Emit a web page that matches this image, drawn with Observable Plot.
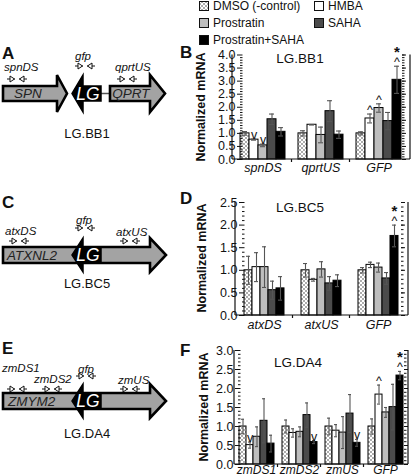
<!DOCTYPE html>
<html>
<head>
<meta charset="utf-8">
<script src="https://cdn.jsdelivr.net/npm/d3@7"></script>
<script src="https://cdn.jsdelivr.net/npm/@observablehq/plot@0.6"></script>
<style>
  html, body { margin: 0; padding: 0; background: #fff; }
  #fig { position: relative; width: 416px; height: 476px; overflow: hidden; font-family: "Liberation Sans", Arial, Helvetica, sans-serif; }
  #overlay { position: absolute; left: 0; top: 0; }
  .chart { position: absolute; }
  .chart svg { overflow: visible; background: none !important; }
  .chart g[aria-label="fx-axis tick label"] text { font-style: italic; }
</style>
</head>
<body>
<svg width="0" height="0" style="position:absolute">
  <defs>
    <pattern id="xhatch" patternUnits="userSpaceOnUse" width="4" height="4">
      <rect width="4" height="4" fill="#fff"></rect>
      <path d="M0,0L4,4M4,0L0,4" stroke="#8a8a8a" stroke-width="0.7"></path>
    </pattern>
  </defs>
</svg>
<div id="fig">
  <svg id="overlay" width="416" height="476"></svg>
</div>
<script>
const FONT = '"Liberation Sans", Arial, Helvetica, sans-serif';

// ---------- DATA ----------
const treatments = ["DMSO (-control)", "HMBA", "Prostratin", "SAHA", "Prostratin+SAHA"];
const treatmentFills = ["url(#xhatch)", "#ffffff", "#bebebe", "#4b4b4b", "#000000"];

// Panel B: LG.BB1
const genesB = ["spnDS", "qprtUS", "GFP"];
const meanB = [
  [1.00, 0.76, 0.54, 1.54, 1.06],
  [1.00, 1.33, 0.94, 1.85, 0.95],
  [1.00, 1.57, 1.97, 1.47, 3.05]
];
const errB = [
  [0.07, 0.02, 0.05, 0.20, 0.16],
  [0.10, 0.01, 0.30, 0.40, 0.14],
  [0.06, 0.17, 0.16, 0.33, 0.52]
];
const sigB = [
  ["", "v", "v", "", ""],
  ["", "", "", "", ""],
  ["", "^", "^", "", "^*"]
];
const yTicksB = [0, 0.5, 1, 1.5, 2, 2.5, 3, 3.5, 4];

// Panel D: LG.BC5
const genesD = ["atxDS", "atxUS", "GFP"];
const meanD = [
  [1.00, 1.07, 1.07, 0.56, 0.60],
  [1.00, 0.79, 1.02, 0.71, 0.77],
  [1.00, 1.12, 1.06, 0.82, 1.76]
];
const errD = [
  [0.31, 0.32, 0.45, 0.20, 0.26],
  [0.15, 0.03, 0.17, 0.15, 0.13],
  [0.06, 0.06, 0.10, 0.13, 0.24]
];
const sigD = [
  ["", "", "", "", ""],
  ["", "", "", "", ""],
  ["", "", "", "", "^*"]
];
const yTicksD = [0, 0.5, 1, 1.5, 2, 2.5];

// Panel F: LG.DA4
const genesF = ["zmDS1", "zmDS2", "zmUS", "GFP"];
const meanF = [
  [1.00, 0.51, 0.73, 1.15, 0.55],
  [1.00, 0.83, 0.86, 1.30, 0.59],
  [1.00, 0.89, 0.84, 1.34, 0.57],
  [1.00, 1.84, 1.37, 1.51, 2.34]
];
const errF = [
  [0.19, 0.08, 0.26, 0.58, 0.22],
  [0.17, 0.11, 0.13, 0.32, 0.04],
  [0.22, 0.16, 0.42, 0.50, 0.09],
  [0.20, 0.25, 0.13, 0.60, 0.11]
];
const sigF = [
  ["", "v", "", "", ""],
  ["", "", "", "", "v"],
  ["", "", "", "", "v"],
  ["", "^", "", "", "^*"]
];
const yTicksF = [0, 0.5, 1, 1.5, 2, 2.5, 3];

// ---------- BAR CHARTS ----------
function makeChart(genes, means, errs, sigs, yTicks, L) {
  const rows = genes.flatMap((g, i) => treatments.map((t, j) => ({
    gene: g, treat: t, value: means[i][j], err: errs[i][j], sig: sigs[i][j]
  })));
  const yMax = yTicks[yTicks.length - 1];
  const minor = d3.range(0, yMax + 1e-6, 0.1);
  const carets = rows.filter(d => d.sig.includes("^") || d.sig.includes("v"));
  const stars = rows.filter(d => d.sig.includes("*"));
  const chart = Plot.plot({
    width: L.width, height: L.height,
    marginLeft: L.ml, marginRight: L.mr, marginTop: L.mt, marginBottom: L.mb,
    style: { fontFamily: FONT, fontSize: "12px", background: "none", overflow: "visible", color: "#111" },
    fx: { domain: genes, paddingInner: L.pi, paddingOuter: L.po, label: null, axis: null },
    x: { domain: treatments, padding: 0, axis: null },
    y: { domain: [0, yMax], axis: null },
    color: { type: "ordinal", domain: treatments, range: treatmentFills },
    marks: [
      Plot.barY(rows, { fx: "gene", x: "treat", y: "value", fill: "treat", stroke: "#000", strokeWidth: 1 }),
      Plot.ruleX(rows, { fx: "gene", x: "treat", y1: d => d.value - d.err, y2: d => d.value + d.err, stroke: "#555", strokeWidth: 1.1 }),
      Plot.tickY(rows, { fx: "gene", x: "treat", y: d => d.value + d.err, insetLeft: 2, insetRight: 2, stroke: "#555", strokeWidth: 1.1 }),
      Plot.tickY(rows, { fx: "gene", x: "treat", y: d => d.value - d.err, insetLeft: 2, insetRight: 2, stroke: "#555", strokeWidth: 1.1 }),
      Plot.text(carets, { fx: "gene", x: "treat", y: d => d.value + d.err, text: d => d.sig.includes("^") ? "^" : "v", lineAnchor: "bottom", dy: 0, fontSize: 12.5, fill: "#111" }),
      Plot.text(stars, { fx: "gene", x: "treat", y: d => d.value + d.err, text: () => "*", lineAnchor: "bottom", dy: -9, fontSize: 15, fontWeight: "bold", fill: "#111" }),
      Plot.axisY(yTicks, { anchor: "left", tickSize: 3, tickPadding: 2, tickFormat: d3.format(".1f"), label: null, fontSize: 12.5 }),
      Plot.axisY(minor, { anchor: "left", tickSize: 2.5, dx: 2.5, text: null, label: null }),
      Plot.axisY(yTicks, { anchor: "right", tickSize: 4, text: null, label: null }),
      Plot.axisY(minor, { anchor: "right", tickSize: 2.5, text: null, label: null }),
      Plot.axisFx({ anchor: "bottom", tickSize: 0, tickPadding: L.fxPad, label: null, fontStyle: "italic", fontSize: L.fxSize })
    ]
  });
  // axis lines drawn from the plot's own scales
  const ys = chart.scale("y");
  const y0 = ys.apply(0), yTop = ys.apply(yMax);
  const xl = L.ml, xr = L.width - L.mr;
  const s = d3.select(chart);
  const g = s.append("g").attr("stroke", "#111").attr("stroke-width", 1.2).attr("fill", "none");
  g.append("line").attr("x1", xl).attr("x2", xl).attr("y1", y0).attr("y2", yTop);
  g.append("line").attr("x1", xr).attr("x2", xr).attr("y1", y0).attr("y2", yTop);
  g.append("line").attr("x1", xl).attr("x2", xr).attr("y1", y0).attr("y2", y0);
  let fxs = null;
  try { fxs = chart.scale("fx"); } catch (e) { fxs = null; }
  if (fxs && fxs.apply) {
    const bw = fxs.bandwidth, st = fxs.step;
    for (let i = 0; i < genes.length - 1; i++) {
      const b = fxs.apply(genes[i]) + bw + (st - bw) / 2;
      g.append("line").attr("x1", b).attr("x2", b).attr("y1", y0).attr("y2", y0 + 3);
    }
  }
  const div = document.createElement("div");
  div.className = "chart";
  div.style.left = L.left + "px";
  div.style.top = L.top + "px";
  div.appendChild(chart);
  document.getElementById("fig").appendChild(div);
}

makeChart(genesB, meanB, errB, sigB, yTicksB,
  { left: 180, top: 40, width: 236, height: 145, ml: 52, mr: 6, mt: 14.5, mb: 26, pi: 0.22, po: 0.12, fxPad: 4, fxSize: 12.5 });
makeChart(genesD, meanD, errD, sigD, yTicksD,
  { left: 180, top: 185, width: 236, height: 152, ml: 55, mr: 8, mt: 17, mb: 22, pi: 0.22, po: 0.12, fxPad: 5, fxSize: 12.5 });
makeChart(genesF, meanF, errF, sigF, yTicksF,
  { left: 180, top: 330, width: 236, height: 146, ml: 54, mr: 8, mt: 20, mb: 12, pi: 0.16, po: 0.06, fxPad: 1, fxSize: 12 });

// ---------- OVERLAY: letters, titles, legend, schematics ----------
const ov = d3.select("#overlay").style("font-family", FONT);
function txt(x, cy, s, o = {}) {
  const fs = o.size || 12;
  const t = ov.append("text")
    .attr("x", x).attr("y", cy + fs * 0.36)
    .attr("font-size", fs)
    .attr("text-anchor", o.anchor || "start")
    .attr("fill", o.fill || "#111")
    .text(s);
  if (o.bold) t.attr("font-weight", "bold");
  if (o.italic) t.attr("font-style", "italic");
  if (o.rotate) t.attr("transform", `rotate(-90,${x},${cy})`).attr("y", cy + fs * 0.36);
  return t;
}

// panel letters
[["A", 2, 53], ["B", 180, 52], ["C", 2, 202], ["D", 180, 198], ["E", 2, 348], ["F", 180, 350]]
  .forEach(([l, x, y]) => txt(x, y, l, { size: 17, bold: true }));

// chart titles
txt(300, 58, "LG.BB1", { size: 13.5, anchor: "middle" });
txt(300, 207, "LG.BC5", { size: 13.5, anchor: "middle" });
txt(298, 362, "LG.DA4", { size: 13.5, anchor: "middle" });

// y labels
txt(200, 107, "Normalized mRNA", { size: 12.5, bold: true, anchor: "middle", rotate: true });
txt(201, 258, "Normalized mRNA", { size: 12.5, bold: true, anchor: "middle", rotate: true });
txt(203, 407, "Normalized mRNA", { size: 12.5, bold: true, anchor: "middle", rotate: true });

// legend
const legendPos = [[199, 6], [314, 6], [199, 23], [314, 23], [199, 40]];
treatments.forEach((name, k) => {
  const [x, y] = legendPos[k];
  ov.append("rect").attr("x", x + 0.5).attr("y", y - 4.5).attr("width", 9).attr("height", 9)
    .attr("fill", treatmentFills[k]).attr("stroke", "#111").attr("stroke-width", 1);
  txt(x + 14, y, name, { size: 12 });
});

// schematics
function arrow(x0, xh, tip, cy, bh, hh, fill, sw) {
  const p = `M${x0},${cy - bh}L${xh},${cy - bh}L${xh},${cy - hh}L${tip},${cy}L${xh},${cy + hh}L${xh},${cy + bh}L${x0},${cy + bh}Z`;
  ov.append("path").attr("d", p).attr("fill", fill).attr("stroke", "#000").attr("stroke-width", sw).attr("stroke-linejoin", "miter");
}
function primer(x, y, dir) {
  const g = ov.append("g").attr("stroke", "#111").attr("stroke-width", 1).attr("fill", "#fff");
  g.append("path").attr("d", `M${x},${y}L${x + 8},${y}`);
  if (dir > 0) g.append("path").attr("d", `M${x + 3},${y - 3}L${x + 7.5},${y}L${x + 3},${y + 3}Z`);
  else g.append("path").attr("d", `M${x + 5},${y - 3}L${x + 0.5},${y}L${x + 5},${y + 3}Z`);
}
function pair(x, y) { primer(x, y, 1); primer(x + 12, y, -1); }

const GRAY = "#a3a3a3";
// A
arrow(3, 57, 67, 93.5, 7.5, 18.5, GRAY, 2.6);
ov.append("line").attr("x1", 101).attr("x2", 110).attr("y1", 93.5).attr("y2", 93.5).attr("stroke", "#555").attr("stroke-width", 1.5);
arrow(110, 150, 165, 93.5, 7.5, 18.5, GRAY, 2.6);
arrow(101, 83, 72, 93.5, 7.5, 18.5, "#000", 1.5);
txt(28, 93.5, "SPN", { size: 13.5, italic: true, anchor: "middle", fill: "#222" });
txt(131, 93.5, "QPRT", { size: 13.5, italic: true, anchor: "middle", fill: "#222" });
txt(88, 93.5, "LG", { size: 17.5, italic: true, anchor: "middle", fill: "#fff" });
txt(4, 67, "spnDS", { size: 11.5, italic: true });
txt(83, 56, "gfp", { size: 11.5, italic: true, anchor: "middle" });
txt(115, 67, "qprtUS", { size: 11.5, italic: true });
pair(7, 79); pair(75, 66); pair(117, 79);
txt(87, 133, "LG.BB1", { size: 13, anchor: "middle" });

// C
arrow(3, 150, 166, 255, 8, 17, GRAY, 2.6);
arrow(101, 83, 72, 255, 8, 17, "#000", 1.5);
txt(7, 255, "ATXNL2", { size: 13.5, italic: true, fill: "#222" });
txt(88, 255, "LG", { size: 17.5, italic: true, anchor: "middle", fill: "#fff" });
txt(5, 231, "atxDS", { size: 11.5, italic: true });
txt(84, 220, "gfp", { size: 11.5, italic: true, anchor: "middle" });
txt(116, 232, "atxUS", { size: 11.5, italic: true });
pair(9, 241); pair(75, 228); pair(120, 241);
txt(87, 283, "LG.BC5", { size: 13, anchor: "middle" });

// E
arrow(3, 150, 166, 401, 8, 17, GRAY, 2.6);
arrow(101, 83, 72, 401, 8, 17, "#000", 1.5);
txt(8, 401, "ZMYM2", { size: 13.5, italic: true, fill: "#222" });
txt(88, 401, "LG", { size: 17.5, italic: true, anchor: "middle", fill: "#fff" });
txt(2, 368, "zmDS1", { size: 11.5, italic: true });
txt(34, 379, "zmDS2", { size: 11.5, italic: true });
txt(86, 369, "gfp", { size: 11.5, italic: true, anchor: "middle" });
txt(118, 380, "zmUS", { size: 11.5, italic: true });
pair(7, 389); pair(42, 389); pair(76, 376); pair(120, 389);
txt(87, 433, "LG.DA4", { size: 13, anchor: "middle" });
</script>
</body>
</html>
